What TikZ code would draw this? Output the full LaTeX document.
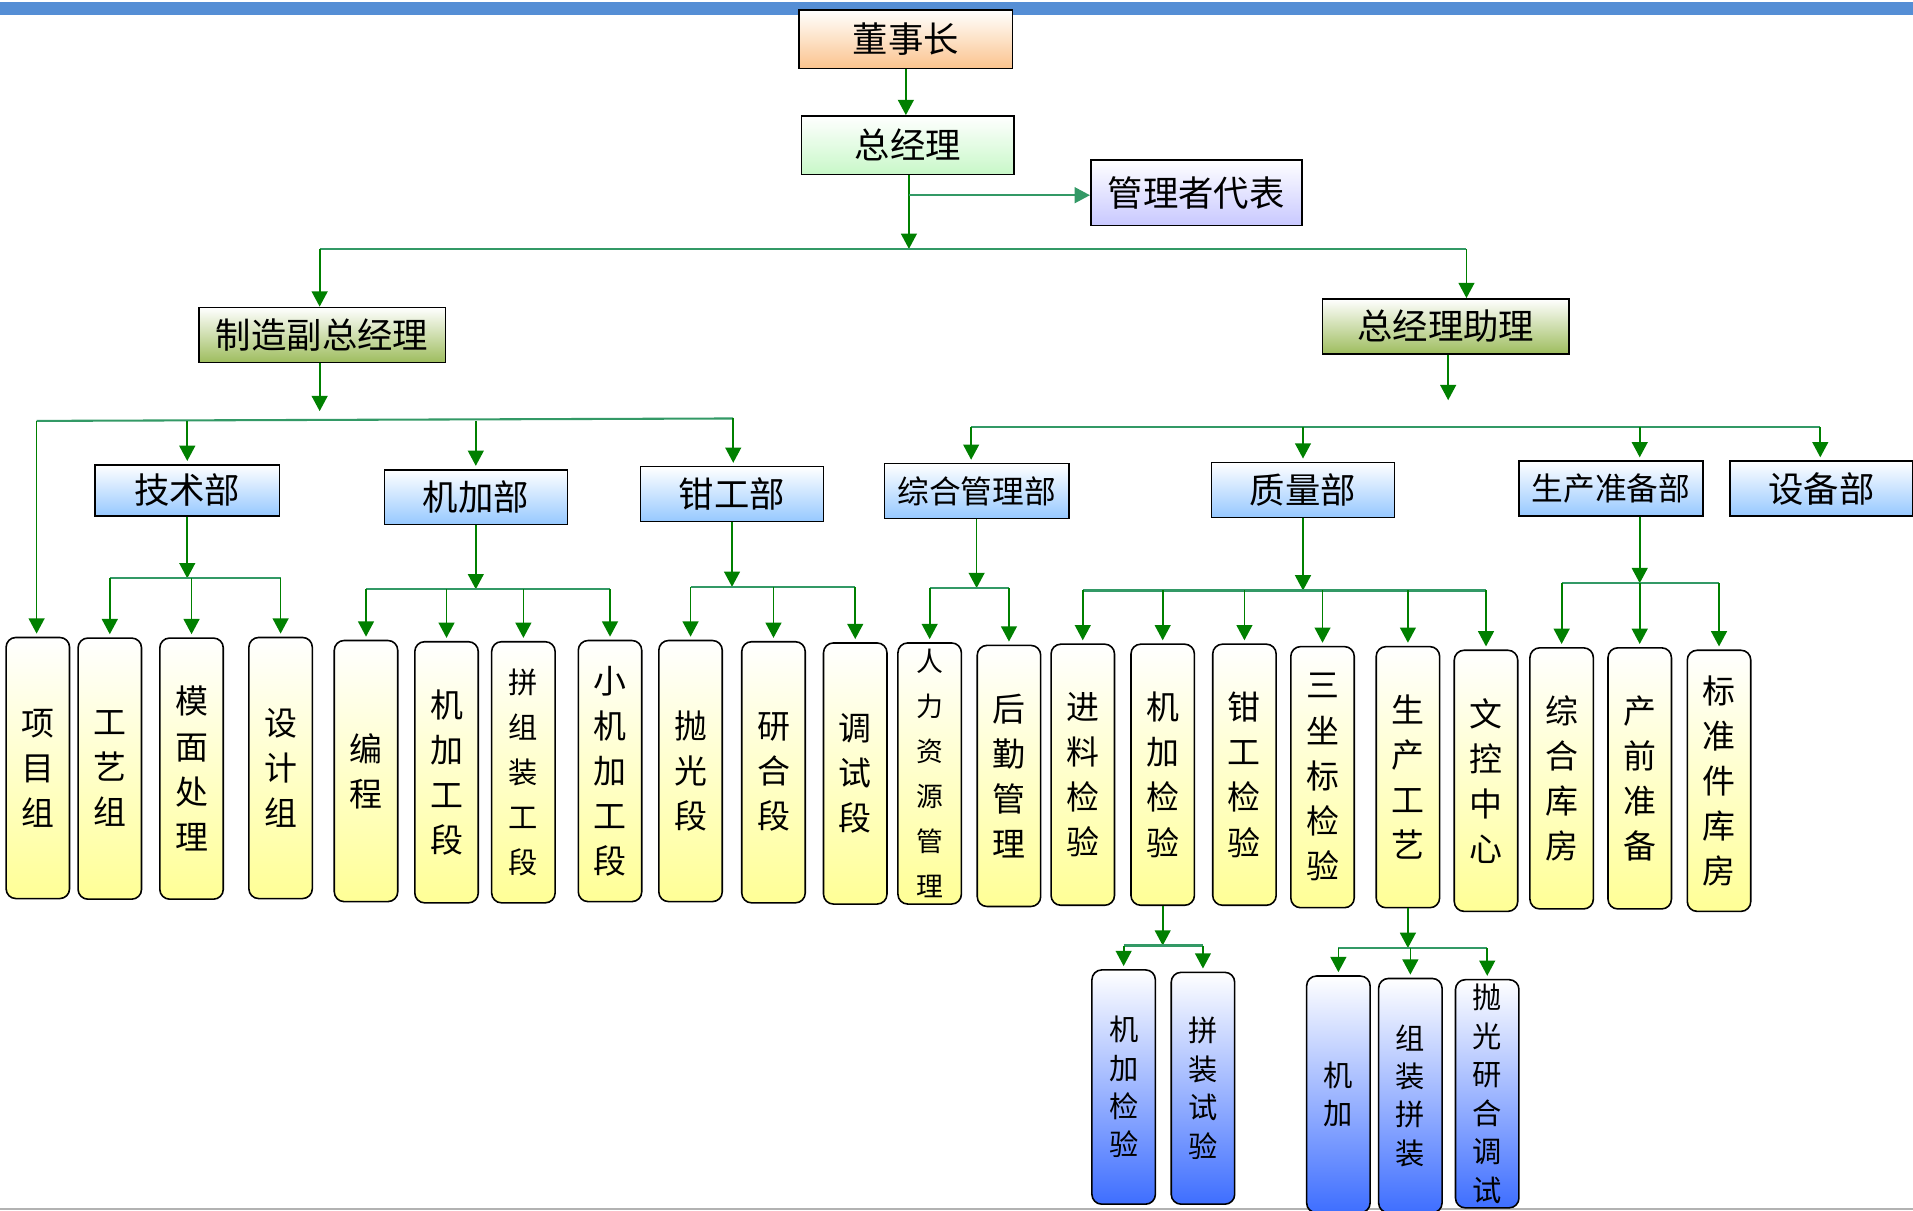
\documentclass[tikz,border=0pt]{standalone}
\usepackage{fontspec}
\newfontfamily\cjk{Noto Sans CJK SC}
\usetikzlibrary{arrows.meta}
\definecolor{arrgreen}{HTML}{008000}
\definecolor{bargreen}{HTML}{339966}
\definecolor{topblue}{HTML}{558ED5}
\definecolor{bossorange}{HTML}{FBC48E}
\definecolor{gmgreen}{HTML}{C8F8C8}
\definecolor{replilac}{HTML}{C8C8FF}
\definecolor{vpolive}{HTML}{9EBD5E}
\definecolor{deptblue}{HTML}{96C8FF}
\definecolor{unityellow}{HTML}{FFFF96}
\definecolor{subblue}{HTML}{3E6EFF}

\begin{document}
\begin{tikzpicture}[x=1pt, y=-1pt,
  orgbox/.style={draw, line width=1.3pt, inner sep=0pt, top color=white, bottom color=#1},
  headbox/.style={orgbox=#1, font=\cjk\fontsize{29}{34}\selectfont},
  deptbox/.style={orgbox=deptblue, minimum width=150pt, minimum height=45pt, font=\cjk\fontsize{29}{34}\selectfont},
  unitbox/.style={orgbox=unityellow, rounded corners=8pt, minimum width=52pt, minimum height=214pt, align=center, font=\cjk\fontsize{27}{37}\selectfont},
  subbox/.style={orgbox=subblue, rounded corners=8pt, minimum width=52pt, minimum height=192pt, align=center, font=\cjk\fontsize{24}{31.5}\selectfont},
  down/.style={draw=arrgreen, line width=1.4pt, -{Triangle[length=12.5pt,width=13pt]}},
  kid/.style={down, shorten >=2.5pt},
  barline/.style={draw=bargreen, line width=1.7pt}]
\useasboundingbox (0,0) rectangle (1568,992);
\fill[topblue] (0,2) rectangle (1568,12);
\draw[gray!60, line width=1pt] (0,991) -- (1568,991);

% top of the chart
\node[headbox=bossorange, minimum width=175pt, minimum height=48pt] (dsz) at (742.5,32) {董事长};
\node[headbox=gmgreen, minimum width=174pt, minimum height=48pt] (zjl) at (744,119) {总经理};
\node[headbox=replilac, minimum width=173pt, minimum height=54pt] (gldb) at (980.5,158) {管理者代表};
\node[headbox=vpolive, minimum width=202pt, minimum height=45pt] (zzfz) at (264,274.5) {制造副总经理};
\node[headbox=vpolive, minimum width=202pt, minimum height=45pt] (zjlzl) at (1185,267.5) {总经理助理};

% departments
\node[deptbox, minimum width=151pt, minimum height=42pt] (jsb) at (153.5,402) {技术部};
\node[deptbox] (jjb) at (390,407.5) {机加部};
\node[deptbox] (qgb) at (600,405) {钳工部};
\node[deptbox, minimum width=151pt, font=\cjk\fontsize{26}{30}\selectfont] (zhglb) at (800.5,402.5) {综合管理部};
\node[deptbox] (zlb) at (1068,401.5) {质量部};
\node[deptbox, minimum width=151pt, font=\cjk\fontsize{26}{30}\selectfont] (sczbb) at (1320.5,400.5) {生产准备部};
\node[deptbox] (sbb) at (1493,400.5) {设备部};

% sections
\node[unitbox] (xmz) at (31,629.5) {项\\目\\组};
\node[unitbox] (gyz) at (90,630) {工\\艺\\组};
\node[unitbox] (mmcl) at (157,630) {模\\面\\处\\理};
\node[unitbox] (sjz) at (230,629.5) {设\\计\\组};
\node[unitbox] (bc) at (300,632) {编\\程};
\node[unitbox] (jjgd) at (366,633) {机\\加\\工\\段};
\node[unitbox, font=\cjk\fontsize{24}{37}\selectfont] (pzzgd) at (429,633) {拼\\组\\装\\工\\段};
\node[unitbox] (xjjgd) at (500,632) {小\\机\\加\\工\\段};
\node[unitbox] (pgd) at (566,632) {抛\\光\\段};
\node[unitbox] (yhd) at (634,633) {研\\合\\段};
\node[unitbox] (tsd) at (701,634) {调\\试\\段};
\node[unitbox, font=\cjk\fontsize{22}{37}\selectfont] (rlzy) at (762,634) {人\\力\\资\\源\\管\\理};
\node[unitbox] (hqgl) at (827,636) {后\\勤\\管\\理};
\node[unitbox] (jljy) at (887.5,635) {进\\料\\检\\验};
\node[unitbox] (jjjy) at (953,635) {机\\加\\检\\验};
\node[unitbox] (qgjy) at (1020,635) {钳\\工\\检\\验};
\node[unitbox] (szbjy) at (1084,637) {三\\坐\\标\\检\\验};
\node[unitbox] (scgy) at (1154,637) {生\\产\\工\\艺};
\node[unitbox] (wkzx) at (1218,640) {文\\控\\中\\心};
\node[unitbox] (zhkf) at (1280,638) {综\\合\\库\\房};
\node[unitbox] (cqzb) at (1344,638) {产\\前\\准\\备};
\node[unitbox] (bzjkf) at (1409,640) {标\\准\\件\\库\\房};

% lowest level
\node[subbox] (jjjyb) at (921,891) {机\\加\\检\\验};
\node[subbox, minimum height=190pt] (pzsy) at (986,892) {拼\\装\\试\\验};
\node[subbox, minimum height=194pt] (jjb2) at (1097,897) {机\\加};
\node[subbox] (zzpz) at (1156,898) {组\\装\\拼\\装};
\node[subbox, minimum height=187pt] (pgyh) at (1219,896.5) {抛\\光\\研\\合\\调\\试};

% board and general manager
\coordinate (gmB) at (745,204);
\coordinate (gmR) at (745,160);
\draw[down] (dsz.south) -- (dsz.south |- zjl.north);
\draw[down] (zjl.south -| gmB) -- (gmB);
\draw[down, draw=bargreen] (gmR) -- (gmR -| gldb.west);
\coordinate (topL) at (262,204);
\coordinate (topR) at (1202,204);
\draw[barline] (topL) -- (topR);
\draw[down] (topL) -- (topL |- zzfz.north);
\draw[down] (topR) -- (topR |- zjlzl.north);

% manufacturing side
\coordinate (mfT) at (262,337);
\coordinate (mfL) at (30,345);
\coordinate (mfR) at (601,343);
\draw[down] (zzfz.south -| mfT) -- (mfT);
\draw[barline] (mfL) -- (mfR);
\draw[kid] (mfL) -- (mfL |- xmz.north);
\draw[kid] (jsb.north |- mfL) -- (jsb.north);
\draw[kid] (jjb.north |- mfL) -- (jjb.north);
\draw[kid] (mfR) -- (mfR |- qgb.north);

% assistant side
\coordinate (asT) at (1187,328);
\coordinate (asL) at (796,350);
\coordinate (asM) at (1344,350);
\coordinate (asR) at (1492,350);
\draw[down] (zjlzl.south -| asT) -- (asT);
\draw[barline] (asL) -- (asR);
\draw[kid] (asL) -- (asL |- zhglb.north);
\draw[kid] (zlb.north |- asL) -- (zlb.north);
\draw[kid] (asM) -- (asM |- sczbb.north);
\draw[kid] (asR) -- (asR |- sbb.north);

% 技术部
\coordinate (jsbB) at (153.5,474);
\draw[down] (jsb.south) -- (jsbB);
\draw[barline] (gyz.north |- jsbB) -- (sjz.north |- jsbB);
\draw[kid] (gyz.north |- jsbB) -- (gyz.north);
\draw[kid] (mmcl.north |- jsbB) -- (mmcl.north);
\draw[kid] (sjz.north |- jsbB) -- (sjz.north);

% 机加部
\coordinate (jjbB) at (390,483);
\draw[down] (jjb.south) -- (jjbB);
\draw[barline] (bc.north |- jjbB) -- (xjjgd.north |- jjbB);
\draw[kid] (bc.north |- jjbB) -- (bc.north);
\draw[kid] (jjgd.north |- jjbB) -- (jjgd.north);
\draw[kid] (pzzgd.north |- jjbB) -- (pzzgd.north);
\draw[kid] (xjjgd.north |- jjbB) -- (xjjgd.north);

% 钳工部
\coordinate (qgbB) at (600,481);
\draw[down] (qgb.south) -- (qgbB);
\draw[barline] (pgd.north |- qgbB) -- (tsd.north |- qgbB);
\draw[kid] (pgd.north |- qgbB) -- (pgd.north);
\draw[kid] (yhd.north |- qgbB) -- (yhd.north);
\draw[kid] (tsd.north |- qgbB) -- (tsd.north);

% 综合管理部
\coordinate (zhglbB) at (800.5,482);
\draw[down] (zhglb.south) -- (zhglbB);
\draw[barline] (rlzy.north |- zhglbB) -- (hqgl.north |- zhglbB);
\draw[kid] (rlzy.north |- zhglbB) -- (rlzy.north);
\draw[kid] (hqgl.north |- zhglbB) -- (hqgl.north);

% 质量部
\coordinate (zlbB) at (1068,484);
\draw[down] (zlb.south) -- (zlbB);
\draw[barline] (jljy.north |- zlbB) -- (wkzx.north |- zlbB);
\draw[kid] (jljy.north |- zlbB) -- (jljy.north);
\draw[kid] (jjjy.north |- zlbB) -- (jjjy.north);
\draw[kid] (qgjy.north |- zlbB) -- (qgjy.north);
\draw[kid] (szbjy.north |- zlbB) -- (szbjy.north);
\draw[kid] (scgy.north |- zlbB) -- (scgy.north);
\draw[kid] (wkzx.north |- zlbB) -- (wkzx.north);

% 生产准备部
\coordinate (sczbbB) at (1344,478);
\draw[down] (sczbb.south -| sczbbB) -- (sczbbB);
\draw[barline] (zhkf.north |- sczbbB) -- (bzjkf.north |- sczbbB);
\draw[kid] (zhkf.north |- sczbbB) -- (zhkf.north);
\draw[kid] (cqzb.north |- sczbbB) -- (cqzb.north);
\draw[kid] (bzjkf.north |- sczbbB) -- (bzjkf.north);

% 机加检验 and 生产工艺
\coordinate (jjjyB) at (953,775);
\draw[down] (jjjy.south) -- (jjjyB);
\draw[barline] (jjjyb.north |- jjjyB) -- (pzsy.north |- jjjyB);
\draw[kid] (jjjyb.north |- jjjyB) -- (jjjyb.north);
\draw[kid] (pzsy.north |- jjjyB) -- (pzsy.north);
\coordinate (scgyB) at (1154,777);
\draw[down] (scgy.south) -- (scgyB);
\draw[barline] (jjb2.north |- scgyB) -- (pgyh.north |- scgyB);
\draw[kid] (jjb2.north |- scgyB) -- (jjb2.north);
\draw[kid] (zzpz.north |- scgyB) -- (zzpz.north);
\draw[kid] (pgyh.north |- scgyB) -- (pgyh.north);
\end{tikzpicture}
\end{document}
